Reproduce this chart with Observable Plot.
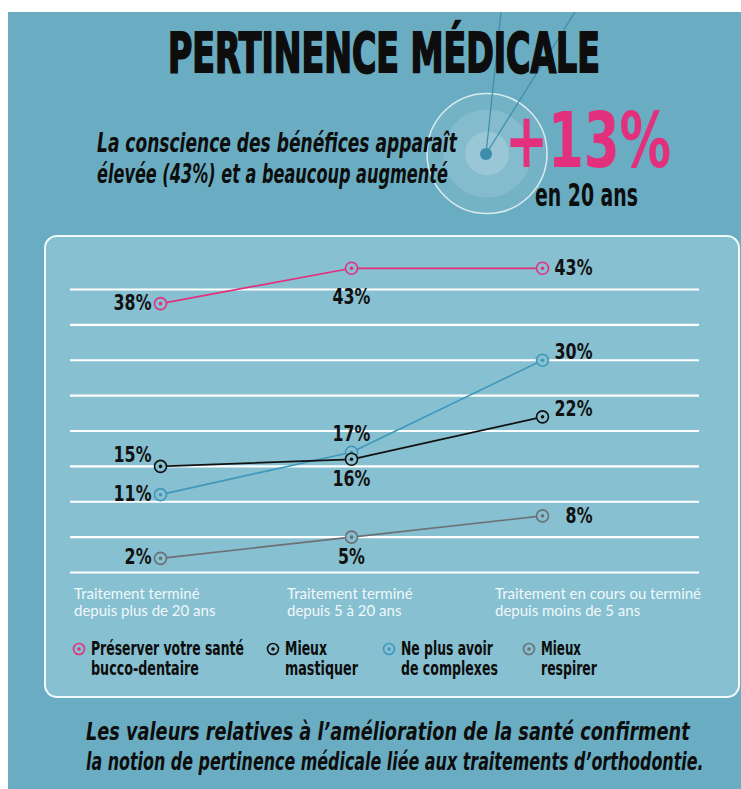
<!DOCTYPE html>
<html>
<head>
<meta charset="utf-8">
<script src="https://cdn.jsdelivr.net/npm/d3@7"></script>
<script src="https://cdn.jsdelivr.net/npm/@observablehq/plot@0.6"></script>
<style>
html, body { margin: 0; padding: 0; background: #ffffff; }
#page { position: relative; width: 741px; height: 789px; overflow: hidden; }
#page svg { position: absolute; }
</style>
</head>
<body>
<div id="page"></div>
<script>
// ---------- data ----------
const periods = [
  "Traitement terminé\ndepuis plus de 20 ans",
  "Traitement terminé\ndepuis 5 à 20 ans",
  "Traitement en cours ou terminé\ndepuis moins de 5 ans"
];
const seriesNames = [
  "Préserver votre santé bucco-dentaire",
  "Mieux mastiquer",
  "Ne plus avoir de complexes",
  "Mieux respirer"
];
const legendLines = [
  ["Préserver votre santé", "bucco-dentaire"],
  ["Mieux", "mastiquer"],
  ["Ne plus avoir", "de complexes"],
  ["Mieux", "respirer"]
];
const preserver = [38, 43, 43];
const mastiquer = [15, 16, 22];
const complexes = [11, 17, 30];
const respirer  = [2, 5, 8];
const gridValues = [0, 5, 10, 15, 20, 25, 30, 35, 40];

const titleText = "PERTINENCE MÉDICALE";
const subtitleLines = ["La conscience des bénéfices apparaît", "élevée (43%) et a beaucoup augmenté"];
const bigFigure = "+13%";
const bigFigureNote = "en 20 ans";
const footerLines = [
  "Les valeurs relatives à l’amélioration de la santé confirment",
  "la notion de pertinence médicale liée aux traitements d’orthodontie."
];

// ---------- styles ----------
const FONT = "'DejaVu Sans Condensed','Liberation Sans Narrow',sans-serif";
const BG = "#6aadc2";
const PANEL = "#87c0d0";
const seriesColors = ["#e3307c", "#111111", "#3f98ba", "#6c7075"];
const drawOrder = [3, 2, 1, 0];
const placements = [
  ["left", "belowFar", "right"],
  ["aboveLeft", "below", "aboveRight"],
  ["left", "above", "aboveRight"],
  ["left", "below", "right"]
];
const placeStyle = {
  left:       {textAnchor: "end",    dx: -9, dy: -1},
  aboveLeft:  {textAnchor: "end",    dx: -9, dy: -11},
  below:      {textAnchor: "middle", dx: 0,  dy: 20},
  belowFar:   {textAnchor: "middle", dx: 0,  dy: 29},
  above:      {textAnchor: "middle", dx: 0,  dy: -18},
  right:      {textAnchor: "end",    dx: 50, dy: 0},
  aboveRight: {textAnchor: "end",    dx: 50, dy: -8}
};
const axisDx = [-86.5, -64.5, -47.5];
const legendX = [79, 273, 389, 529];
const legendWidths = [[153, 108], [42, 73], [92, 97], [40, 56]];

const seriesValues = [preserver, mastiquer, complexes, respirer];
const rows = [];
seriesNames.forEach((s, si) => seriesValues[si].forEach((v, i) =>
  rows.push({series: s, si, period: periods[i], value: v, place: placements[si][i]})));

// ---------- decor / page ----------
const page = d3.select("#page");
const svg = page.append("svg").attr("width", 741).attr("height", 789).style("left", "0px").style("top", "0px");
svg.append("rect").attr("x", 8).attr("y", 12).attr("width", 733).attr("height", 777).attr("fill", BG);

svg.append("circle").attr("cx", 487).attr("cy", 153.5).attr("r", 60)
  .attr("fill", "rgba(255,255,255,0.07)").attr("stroke", "rgba(255,255,255,0.75)").attr("stroke-width", 1.5);
svg.append("circle").attr("cx", 487).attr("cy", 153.5).attr("r", 44).attr("fill", "rgba(255,255,255,0.12)");
svg.append("circle").attr("cx", 487).attr("cy", 153.5).attr("r", 22).attr("fill", "rgba(255,255,255,0.18)");
svg.append("line").attr("x1", 486).attr("y1", 154).attr("x2", 501).attr("y2", 12).attr("stroke", "#3b8dab").attr("stroke-width", 1.2);
svg.append("line").attr("x1", 486).attr("y1", 154).attr("x2", 575).attr("y2", 12).attr("stroke", "#3b8dab").attr("stroke-width", 1.2);
svg.append("circle").attr("cx", 486).attr("cy", 154).attr("r", 6).attr("fill", "#3b8dab");

// text squeezed horizontally to a target width (no condensed display font installed)
function addText(txt, x, y, len, size, o = {}) {
  const t = svg.append("text").attr("x", 0).attr("y", 0).text(txt)
    .style("font-family", FONT).style("font-size", size + "px")
    .style("font-weight", o.weight || "bold").style("font-style", o.style || "normal")
    .attr("fill", o.fill || "#0d0d0d");
  if (o.stroke) t.attr("stroke", o.stroke).attr("stroke-width", o.sw || 0.6);
  const w = t.node().getComputedTextLength();
  const k = (len && w > 0) ? len / w : 1;
  t.attr("transform", `translate(${x},${y}) scale(${k.toFixed(4)},1)`);
  return t;
}
addText(titleText, 168, 72, 432, 55, {stroke: "#0d0d0d", sw: 2});
addText(subtitleLines[0], 97, 152, 360, 27, {style: "italic"});
addText(subtitleLines[1], 97, 183, 351, 27, {style: "italic"});
addText(bigFigure, 505, 167, 166, 76, {fill: "#e3307c"});
addText(bigFigureNote, 535, 206, 103, 32);
addText(footerLines[0], 86, 740, 604, 25, {style: "italic"});
addText(footerLines[1], 86, 770, 618, 25, {style: "italic"});

// panel
svg.append("rect").attr("x", 45).attr("y", 236).attr("width", 694).attr("height", 461).attr("rx", 12)
  .attr("fill", PANEL).attr("stroke", "#f2f9fb").attr("stroke-width", 2);

// legend
legendLines.forEach((lines, i) => {
  const c = seriesColors[i];
  svg.append("circle").attr("cx", legendX[i]).attr("cy", 649).attr("r", 5.5)
    .attr("fill", PANEL).attr("stroke", c).attr("stroke-width", 1.6);
  svg.append("circle").attr("cx", legendX[i]).attr("cy", 649).attr("r", 1.8).attr("fill", c);
  lines.forEach((ln, j) => addText(ln, legendX[i] + 12, 655 + j * 20, legendWidths[i][j], 19));
});

// ---------- chart ----------
const labelMarks = Object.keys(placeStyle).map(k =>
  Plot.text(rows.filter(d => d.place === k), {
    x: "period", y: "value", text: d => d.value + "%",
    ...placeStyle[k], fontSize: 22, fontWeight: "bold", fill: "#111"
  }));
const lineMarks = drawOrder.map(si => Plot.line(rows.filter(d => d.si === si), {
  x: "period", y: "value", stroke: "series", strokeWidth: 1.7
}));
const dotMarks = drawOrder.flatMap(si => [
  Plot.dot(rows.filter(d => d.si === si), {x: "period", y: "value", r: 6, stroke: "series", fill: PANEL, strokeWidth: 1.6}),
  Plot.dot(rows.filter(d => d.si === si), {x: "period", y: "value", r: 1.8, fill: "series"})
]);
const axisMarks = periods.map((p, i) => Plot.axisX([p], {
  tickSize: 0, tickPadding: 0, textAnchor: "start", dx: axisDx[i], dy: 15,
  lineAnchor: "top", lineHeight: 1.1, fontSize: 15, color: "#f0f8fb",
  fontFamily: "Lato, 'Open Sans', sans-serif", label: null
}));

const chart = Plot.plot({
  width: 695, height: 390,
  marginLeft: 26, marginRight: 40, marginTop: 0, marginBottom: 54,
  style: {background: "transparent", fontFamily: FONT, overflow: "visible"},
  x: {type: "point", domain: periods, range: [115, 498], padding: 0, axis: null},
  y: {domain: [0, 40], range: [336, 53], axis: null},
  color: {domain: seriesNames, range: seriesColors},
  marks: [
    Plot.ruleY(gridValues, {stroke: "#ffffff", strokeWidth: 2.2}),
    ...lineMarks,
    ...dotMarks,
    ...labelMarks,
    ...axisMarks
  ]
});
chart.style.position = "absolute";
chart.style.left = "44px";
chart.style.top = "236px";
document.getElementById("page").appendChild(chart);
// condense the value labels horizontally
chart.querySelectorAll('g[aria-label="text"] text').forEach(t => {
  const w = t.getComputedTextLength();
  if (w > 0) {
    t.setAttribute("textLength", (w * 0.8).toFixed(1));
    t.setAttribute("lengthAdjust", "spacingAndGlyphs");
  }
});
</script>
</body>
</html>
